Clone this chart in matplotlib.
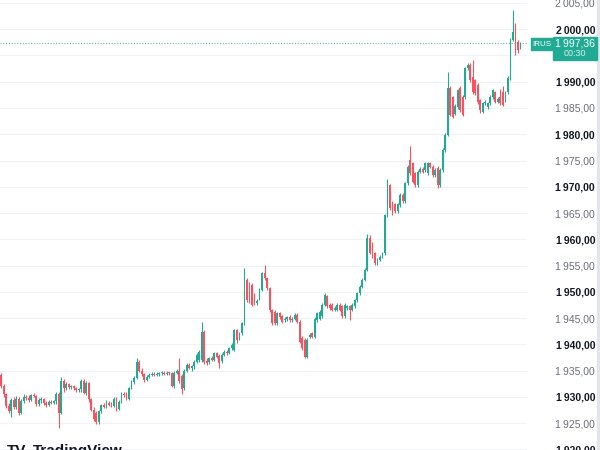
import matplotlib.pyplot as plt
from matplotlib.patches import Rectangle
import numpy as np

# OHLC candles
opens = [
    1934.2, 1932.0, 1930.5, 1928.3, 1927.3, 1929.4, 1928.0, 1929.6, 1927.0, 1929.2,
    1930.0, 1929.7, 1929.3, 1930.3, 1930.1, 1928.6, 1929.4, 1929.6, 1928.8, 1928.5,
    1929.0, 1928.8, 1929.1, 1930.6, 1927.0, 1933.0, 1931.6, 1932.5, 1931.8, 1932.0,
    1931.6, 1931.2, 1931.4, 1933.0, 1930.8, 1932.6, 1929.5, 1927.5, 1926.9, 1925.2,
    1927.2, 1928.4, 1928.1, 1928.8, 1928.5, 1928.2, 1929.6, 1927.6, 1929.0, 1930.6,
    1930.6, 1929.6, 1931.6, 1932.8, 1933.6, 1936.6, 1935.0, 1934.3, 1933.2, 1933.8,
    1934.2, 1934.4, 1934.1, 1934.3, 1934.5, 1934.6, 1934.4, 1934.6, 1934.5, 1932.0,
    1934.6, 1935.0, 1934.0, 1931.6, 1935.0, 1936.1, 1935.5, 1935.8, 1936.7, 1937.0,
    1937.0, 1942.4, 1936.9, 1936.6, 1937.3, 1937.0, 1938.3, 1937.8, 1936.8, 1938.0,
    1938.6, 1938.3, 1939.2, 1939.0, 1942.7, 1941.1, 1942.1, 1944.0, 1952.3, 1951.6,
    1951.3, 1949.4, 1947.8, 1948.8, 1950.4, 1953.5, 1952.6, 1950.7, 1946.5, 1946.2,
    1944.0, 1945.9, 1945.3, 1944.6, 1944.9, 1945.2, 1944.6, 1944.9, 1945.6, 1944.3,
    1941.2, 1940.8, 1937.6, 1941.4, 1942.1, 1941.4, 1944.6, 1944.9, 1945.3, 1947.5,
    1949.1, 1947.5, 1947.5, 1946.6, 1946.6, 1947.5, 1947.2, 1945.3, 1946.9, 1947.2,
    1946.6, 1947.2, 1948.4, 1949.7, 1951.0, 1952.3, 1954.2, 1960.2, 1959.2, 1957.3,
    1955.4, 1956.1, 1956.7, 1957.3, 1964.6, 1970.3, 1966.9, 1966.7, 1965.3, 1966.5,
    1968.5, 1967.2, 1970.7, 1975.1, 1974.5, 1972.6, 1970.3, 1972.9, 1973.4, 1973.2,
    1972.6, 1974.5, 1973.8, 1972.2, 1973.6, 1970.3, 1973.2, 1977.0, 1979.9, 1988.8,
    1987.0, 1983.9, 1985.2, 1988.8, 1987.1, 1987.1, 1992.6, 1993.2, 1990.9, 1990.3,
    1989.4, 1986.5, 1984.2, 1985.9, 1985.2, 1985.9, 1987.1, 1988.0, 1986.2, 1987.1,
    1988.0, 1986.5, 1988.0, 1990.7, 1998.0, 1999.5, 1997.6, 1996.6,
]
highs = [
    1934.5, 1932.4, 1930.8, 1928.8, 1929.8, 1930.0, 1930.1, 1930.0, 1929.6, 1930.5,
    1930.3, 1930.4, 1930.6, 1930.7, 1930.4, 1929.8, 1929.9, 1929.8, 1929.1, 1929.3,
    1929.4, 1929.3, 1931.0, 1931.0, 1933.7, 1933.3, 1932.9, 1932.7, 1932.2, 1932.2,
    1931.9, 1931.7, 1933.3, 1933.3, 1933.0, 1932.9, 1929.8, 1928.0, 1927.2, 1927.5,
    1928.7, 1928.9, 1929.3, 1929.2, 1929.0, 1930.0, 1929.9, 1929.3, 1931.0, 1931.0,
    1931.0, 1931.9, 1933.2, 1934.0, 1937.4, 1937.0, 1935.5, 1934.6, 1934.1, 1934.5,
    1934.7, 1934.8, 1934.7, 1934.7, 1934.9, 1935.0, 1934.9, 1934.8, 1934.8, 1934.9,
    1935.3, 1937.4, 1934.3, 1935.3, 1936.5, 1936.4, 1936.0, 1937.0, 1938.3, 1938.9,
    1944.3, 1942.7, 1937.3, 1937.6, 1937.7, 1938.6, 1938.6, 1938.1, 1938.3, 1938.9,
    1939.0, 1939.5, 1940.2, 1943.0, 1943.0, 1942.4, 1944.3, 1954.5, 1952.6, 1951.9,
    1951.6, 1949.7, 1948.6, 1950.7, 1953.8, 1955.1, 1952.9, 1951.0, 1946.8, 1946.5,
    1946.2, 1946.2, 1945.6, 1945.2, 1945.4, 1945.5, 1945.1, 1945.9, 1945.9, 1944.6,
    1941.5, 1941.1, 1941.1, 1942.1, 1942.4, 1945.2, 1946.2, 1946.5, 1947.8, 1949.7,
    1949.4, 1947.8, 1947.8, 1947.2, 1947.8, 1947.8, 1947.5, 1947.8, 1947.5, 1947.5,
    1947.8, 1948.7, 1950.0, 1951.3, 1952.6, 1954.5, 1961.0, 1960.8, 1959.5, 1957.6,
    1956.4, 1957.0, 1957.6, 1964.9, 1971.4, 1970.6, 1967.2, 1967.0, 1967.0, 1968.8,
    1968.8, 1971.0, 1974.1, 1977.7, 1974.8, 1972.9, 1973.2, 1973.7, 1973.8, 1974.8,
    1974.8, 1974.8, 1974.1, 1973.5, 1973.9, 1973.5, 1977.3, 1980.2, 1991.9, 1989.1,
    1987.3, 1985.7, 1988.7, 1989.1, 1987.4, 1992.9, 1993.5, 1993.5, 1994.1, 1990.6,
    1989.7, 1986.8, 1986.2, 1986.5, 1986.2, 1987.4, 1988.7, 1988.3, 1987.1, 1988.6,
    1989.1, 1988.3, 1991.0, 1998.3, 2003.7, 2001.2, 1997.9, 1997.6,
]
lows = [
    1931.6, 1930.0, 1927.8, 1926.9, 1926.2, 1927.6, 1927.7, 1926.6, 1926.8, 1928.8,
    1929.4, 1929.0, 1929.1, 1929.9, 1928.2, 1928.3, 1928.9, 1928.5, 1928.1, 1928.2,
    1928.6, 1928.6, 1928.6, 1924.1, 1926.7, 1931.0, 1931.3, 1931.5, 1931.4, 1931.3,
    1931.0, 1930.9, 1931.0, 1930.5, 1930.4, 1929.0, 1927.3, 1925.4, 1924.9, 1924.9,
    1927.0, 1927.9, 1927.9, 1928.3, 1928.0, 1928.0, 1927.3, 1927.4, 1928.8, 1930.0,
    1929.3, 1929.4, 1931.4, 1932.5, 1933.4, 1934.7, 1934.0, 1932.9, 1933.0, 1933.6,
    1934.0, 1934.0, 1933.9, 1933.9, 1934.1, 1934.2, 1934.1, 1934.2, 1931.8, 1931.7,
    1934.4, 1932.6, 1930.5, 1931.3, 1934.7, 1935.2, 1935.0, 1935.2, 1936.4, 1936.7,
    1936.7, 1936.2, 1936.0, 1936.3, 1936.8, 1936.8, 1937.3, 1935.4, 1936.5, 1937.7,
    1938.0, 1938.1, 1938.9, 1938.7, 1940.2, 1940.8, 1941.8, 1943.7, 1948.0, 1947.8,
    1947.2, 1947.5, 1947.4, 1948.5, 1950.1, 1952.3, 1950.4, 1946.2, 1943.7, 1943.7,
    1943.7, 1944.8, 1944.0, 1944.3, 1944.5, 1944.3, 1944.3, 1944.6, 1944.0, 1940.2,
    1938.9, 1937.3, 1937.3, 1941.1, 1941.1, 1941.1, 1944.3, 1944.6, 1945.0, 1947.2,
    1946.9, 1946.6, 1946.3, 1946.3, 1946.3, 1946.3, 1945.0, 1945.0, 1946.6, 1944.6,
    1946.3, 1946.9, 1948.1, 1949.4, 1950.7, 1952.0, 1953.9, 1957.1, 1956.4, 1955.1,
    1955.1, 1955.8, 1956.4, 1957.0, 1964.3, 1965.6, 1964.7, 1965.0, 1965.0, 1966.2,
    1966.9, 1966.9, 1970.4, 1972.3, 1970.7, 1970.0, 1970.0, 1972.6, 1972.6, 1972.9,
    1972.3, 1973.5, 1971.9, 1971.9, 1969.8, 1970.0, 1972.9, 1976.7, 1979.6, 1983.4,
    1983.0, 1983.6, 1984.9, 1984.3, 1983.4, 1986.8, 1992.3, 1990.0, 1987.7, 1987.5,
    1985.8, 1984.0, 1984.0, 1985.6, 1984.9, 1985.6, 1986.8, 1985.9, 1985.9, 1985.6,
    1985.3, 1986.2, 1987.7, 1990.4, 1997.7, 1995.1, 1995.5, 1996.3,
]
closes = [
    1932.0, 1930.5, 1928.3, 1927.3, 1929.4, 1928.0, 1929.6, 1927.0, 1929.2, 1930.0,
    1929.7, 1929.3, 1930.3, 1930.1, 1928.6, 1929.4, 1929.6, 1928.8, 1928.5, 1929.0,
    1928.8, 1929.1, 1930.6, 1927.0, 1933.0, 1931.6, 1932.5, 1931.8, 1932.0, 1931.6,
    1931.2, 1931.4, 1933.0, 1930.8, 1932.6, 1929.5, 1927.5, 1925.8, 1925.2, 1927.2,
    1928.4, 1928.1, 1928.8, 1928.5, 1928.2, 1929.6, 1927.6, 1929.0, 1930.6, 1930.3,
    1929.6, 1931.6, 1932.8, 1933.6, 1936.6, 1935.0, 1934.3, 1933.2, 1933.8, 1934.2,
    1934.4, 1934.1, 1934.3, 1934.5, 1934.6, 1934.4, 1934.6, 1934.5, 1932.0, 1934.6,
    1935.0, 1933.0, 1931.4, 1935.0, 1936.1, 1935.5, 1935.8, 1936.7, 1938.0, 1938.6,
    1942.4, 1936.7, 1936.4, 1937.3, 1937.0, 1938.3, 1937.6, 1936.4, 1938.0, 1938.6,
    1938.3, 1939.2, 1939.9, 1942.7, 1940.8, 1942.1, 1944.0, 1952.9, 1948.4, 1948.1,
    1947.5, 1947.8, 1948.3, 1950.4, 1953.5, 1952.6, 1950.7, 1946.5, 1944.0, 1944.0,
    1945.9, 1945.1, 1944.3, 1944.9, 1945.2, 1944.6, 1944.8, 1945.6, 1944.3, 1940.5,
    1939.2, 1937.6, 1940.8, 1941.8, 1941.4, 1944.9, 1945.9, 1946.2, 1947.5, 1949.4,
    1947.2, 1946.9, 1946.6, 1946.9, 1947.5, 1946.6, 1945.3, 1947.5, 1947.2, 1946.6,
    1947.5, 1948.4, 1949.7, 1951.0, 1952.3, 1954.2, 1960.2, 1957.4, 1956.7, 1955.4,
    1956.1, 1956.7, 1957.3, 1964.6, 1970.3, 1965.9, 1965.0, 1965.3, 1966.7, 1968.5,
    1967.2, 1970.7, 1973.8, 1972.6, 1971.0, 1970.3, 1972.9, 1973.4, 1972.9, 1974.5,
    1974.5, 1973.8, 1972.2, 1973.2, 1970.3, 1973.2, 1977.0, 1979.9, 1988.8, 1983.7,
    1983.3, 1985.4, 1988.4, 1984.6, 1983.7, 1992.6, 1993.2, 1990.3, 1988.0, 1987.8,
    1986.1, 1984.6, 1985.9, 1986.2, 1985.9, 1987.1, 1988.4, 1986.2, 1986.8, 1985.9,
    1985.6, 1988.0, 1990.7, 1998.0, 1999.5, 1997.0, 1996.0, 1997.36,
]

price_levels = list(range(1920, 2010, 5))
hidden_level = 1995          # sits behind the price tag
last_price = 1997.36
symbol = "IRUS"
countdown = "00:30"

UP = "#22ab94"
DOWN = "#f7525f"


def fmt_price(v):
    s = "%.2f" % v
    whole, dec = s.split(".")
    return whole[0] + "\u2009" + whole[1:] + "," + dec


o = np.array(opens)
h = np.array(highs)
l = np.array(lows)
c = np.array(closes)
x = np.arange(len(o))
cols = [UP if cc >= oo else DOWN for oo, cc in zip(o, c)]

fig = plt.figure(figsize=(6, 4.5), dpi=100)
fig.patch.set_facecolor("white")
ax = fig.add_axes([0, 0, 527 / 600, 1])

ax.vlines(x, l, h, colors=cols, linewidth=0.8, zorder=2)
body_lo = np.minimum(o, c)
body_h = np.maximum(np.abs(c - o), 0.15)
ax.bar(x, body_h, bottom=body_lo, width=0.72, color=cols, linewidth=0, zorder=3)

ax.axhline(last_price, color="#5fb8a8", linestyle=(0, (1, 1.5)), linewidth=0.8, zorder=1)

ax.set_xlim(-0.4, 209.6)
ax.set_ylim(1919.86, 2005.57)
ax.set_xticks([])
ax.set_yticks(price_levels)
ax.set_yticklabels(["" if p == hidden_level else fmt_price(p) for p in price_levels])
ax.yaxis.tick_right()
ax.tick_params(axis="y", length=0, pad=49)
for lbl, p in zip(ax.get_yticklabels(), price_levels):
    lbl.set_horizontalalignment("right")
    lbl.set_fontfamily("Liberation Sans")
    lbl.set_fontsize(7.5)
    if p % 10 == 0:
        lbl.set_color("#131722")
        lbl.set_fontweight("bold")
    else:
        lbl.set_color("#6a6d78")
ax.grid(axis="y", color="#f0f2f5", linewidth=0.8)
ax.set_axisbelow(True)
for s in ax.spines.values():
    s.set_visible(False)

# price tag boxes on the scale
W, H = 600.0, 450.0
fig.patches.append(Rectangle((531 / W, 1 - 50 / H), 21 / W, 12 / H,
                             transform=fig.transFigure, color=UP, zorder=5))
fig.patches.append(Rectangle((553 / W, 1 - 60 / H), 44 / W, 23 / H,
                             transform=fig.transFigure, color=UP, zorder=5))
fig.text(541.5 / W, 1 - 44.5 / H, symbol, color="white", fontsize=5.8,
         family="Liberation Sans", ha="center", va="center", zorder=6)
fig.text(575 / W, 1 - 43.5 / H, fmt_price(last_price), color="white", fontsize=7.5,
         family="Liberation Sans", ha="center", va="center", zorder=6)
fig.text(575 / W, 1 - 53.5 / H, countdown, color="#d5f0eb", fontsize=6.5,
         family="Liberation Sans", ha="center", va="center", zorder=6)

# scrollbar strip on the far right
fig.patches.append(Rectangle((597 / W, 0), 3 / W, 1, transform=fig.transFigure,
                             color="#e3e5ea", zorder=4))

# watermark, cut by the bottom edge as in the screenshot
fig.text(7 / W, 1 - 444 / H, "TV", color="#131722", fontsize=11, weight="bold",
         family="Liberation Sans", va="top")
fig.text(33 / W, 1 - 444 / H, "TradingView", color="#131722", fontsize=11,
         weight="bold", family="Liberation Sans", va="top")

fig.savefig("out.png", dpi=100)
